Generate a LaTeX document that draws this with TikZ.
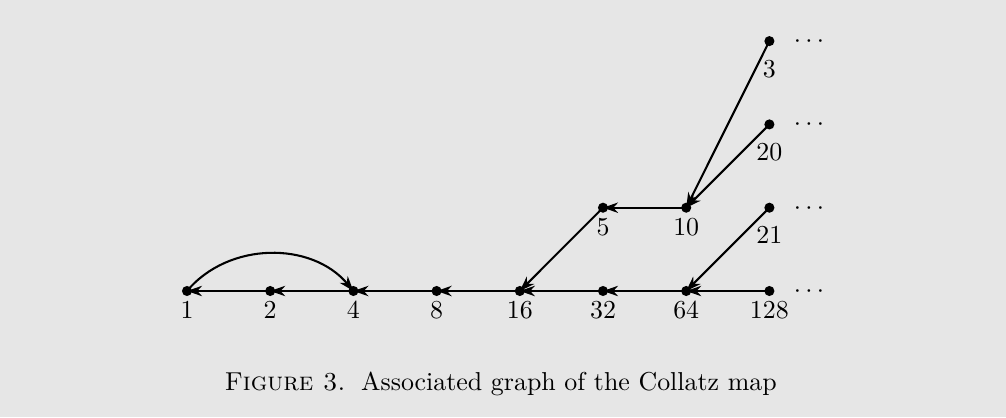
\documentclass[tikz,border=0pt]{standalone}
\usetikzlibrary{arrows.meta}
\definecolor{bg}{RGB}{230,230,230}
\begin{document}
\begin{tikzpicture}[x=0.3861pt,y=-0.3861pt,
  dot/.style={circle, fill=black, inner sep=0pt, minimum size=3.9pt},
  lab/.style={inner sep=0pt, label distance=2pt},
  farlab/.style={inner sep=0pt, label distance=5.1pt},
  edge/.style={line width=0.8pt, -{Stealth[length=5.8pt,width=4pt,inset=1.8pt]}},
  more/.style={anchor=base, inner sep=0pt}]
\fill[bg] (0,0) rectangle (1006,417);
\useasboundingbox (0,0) rectangle (1006,417);
% row 0
\node[dot, label={[lab]below:$1$}]   (n1)   at (187,291)   {};
\node[dot, label={[lab]below:$2$}]   (n2)   at (270.2,291) {};
\node[dot, label={[lab]below:$4$}]   (n4)   at (353.4,291) {};
\node[dot, label={[lab]below:$8$}]   (n8)   at (436.6,291) {};
\node[dot, label={[lab]below:$16$}]  (n16)  at (519.8,291) {};
\node[dot, label={[lab]below:$32$}]  (n32)  at (603,291)   {};
\node[dot, label={[lab]below:$64$}]  (n64)  at (686.2,291) {};
\node[dot, label={[lab]below:$128$}] (n128) at (769.4,291) {};
% row 1
\node[dot, label={[lab]below:$5$}]     (n5)  at (603,207.7)   {};
\node[dot, label={[lab]below:$10$}]    (n10) at (686.2,207.7) {};
\node[dot, label={[farlab]below:$21$}] (n21) at (769.4,207.7) {};
% row 2
\node[dot, label={[farlab]below:$20$}] (n20) at (769.4,124.4) {};
% row 3
\node[dot, label={[farlab]below:$3$}]  (n3)  at (769.4,41.1)  {};
% continuation dots
\node[more] (c0) at (809,297.5) {$\cdots$};
\node[more] (c1) at (809,214.2) {$\cdots$};
\node[more] (c2) at (809,130.9) {$\cdots$};
\node[more] (c3) at (809,47.6)  {$\cdots$};
% edges
\draw[edge] (n2.center) -- (n1.center);
\draw[edge] (n4.center) -- (n2.center);
\draw[edge] (n8.center) -- (n4.center);
\draw[edge] (n16.center) -- (n8.center);
\draw[edge] (n32.center) -- (n16.center);
\draw[edge] (n64.center) -- (n32.center);
\draw[edge] (n128.center) -- (n64.center);
\draw[edge] (n1.center) to[bend left=50] (n4.center);
\draw[edge] (n5.center) -- (n16.center);
\draw[edge] (n10.center) -- (n5.center);
\draw[edge] (n3.center) -- (n10.center);
\draw[edge] (n20.center) -- (n10.center);
\draw[edge] (n21.center) -- (n64.center);
% caption
\node[anchor=base west, inner sep=0pt] (cap) at (224,390)
  {\textsc{Figure 3.}\hskip 6pt Associated graph of the Collatz map};
\end{tikzpicture}
\end{document}
